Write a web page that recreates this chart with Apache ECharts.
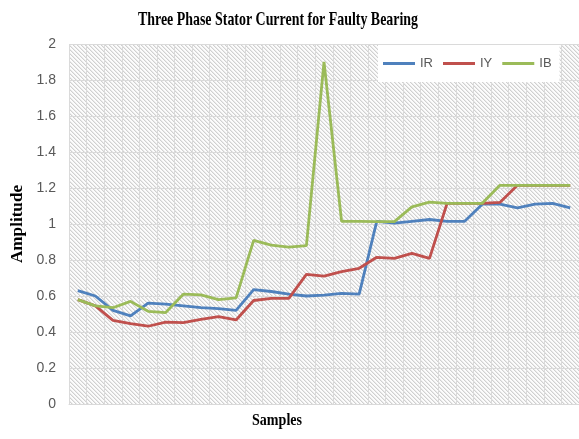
<!DOCTYPE html>
<html>
<head>
<meta charset="utf-8">
<script src="https://cdn.jsdelivr.net/npm/echarts@6/dist/echarts.min.js"></script>
<style>
  html, body { margin: 0; padding: 0; background: #ffffff; }
  #chart { width: 579px; height: 439px; }
</style>
</head>
<body>
<div id="chart"></div>
<script>
// Sample indices along the horizontal axis (labels are not shown)
const samples = ['1','2','3','4','5','6','7','8','9','10','11','12','13','14','15',
                 '16','17','18','19','20','21','22','23','24','25','26','27','28','29'];

// Stator current amplitude for each phase
const irValues = [0.63, 0.60, 0.52, 0.49, 0.56, 0.555, 0.545, 0.535, 0.53, 0.52,
                  0.635, 0.625, 0.61, 0.60, 0.605, 0.615, 0.61, 1.015, 1.005, 1.015,
                  1.025, 1.015, 1.015, 1.11, 1.11, 1.09, 1.11, 1.115, 1.09];
const iyValues = [0.58, 0.545, 0.465, 0.447, 0.432, 0.455, 0.452, 0.47, 0.485, 0.467,
                  0.575, 0.587, 0.587, 0.72, 0.711, 0.735, 0.754, 0.815, 0.809, 0.837,
                  0.809, 1.115, 1.115, 1.115, 1.12, 1.215, 1.215, 1.215, 1.215];
const ibValues = [0.58, 0.545, 0.535, 0.57, 0.515, 0.508, 0.61, 0.606, 0.58, 0.59,
                  0.909, 0.883, 0.872, 0.88, 1.9, 1.015, 1.015, 1.013, 1.013, 1.095,
                  1.122, 1.115, 1.115, 1.115, 1.215, 1.215, 1.215, 1.215, 1.215];

const seriesNames = ['IR', 'IY', 'IB'];
const yTickMin = 0, yTickMax = 2, yTickStep = 0.2;

const colors = ['#4F81BD', '#C0504D', '#9BBB59'];
const labelFont = '"Liberation Sans", Arial, sans-serif';
const serifFont = '"Liberation Serif", "Times New Roman", serif';

// Diagonal hatch tile for the plot background
function hatchTile() {
  const n = 4;
  const c = document.createElement('canvas');
  c.width = n; c.height = n;
  const g = c.getContext('2d');
  const img = g.createImageData(n, n);
  for (let y = 0; y < n; y++) {
    for (let x = 0; x < n; x++) {
      const d = ((x - y) % n + n) % n;
      const v = d === 0 ? 208 : (d === 1 ? 234 : 252);
      const i = (y * n + x) * 4;
      img.data[i] = v; img.data[i + 1] = v; img.data[i + 2] = v; img.data[i + 3] = 255;
    }
  }
  g.putImageData(img, 0, 0);
  return c;
}

// Horizontal squeeze factor so a text run spans the wanted width
function fitScale(text, font, width) {
  const g = document.createElement('canvas').getContext('2d');
  g.font = font;
  return width / g.measureText(text).width;
}

const titleText = 'Three Phase Stator Current for Faulty Bearing';
const titleFont = 'bold 19px ' + serifFont;
const xNameFont = 'bold 16px ' + serifFont;
const yNameFont = 'bold 16px ' + serifFont;

const chart = echarts.init(document.getElementById('chart'), null, { renderer: 'canvas' });

chart.setOption({
  animation: false,
  backgroundColor: '#ffffff',
  grid: {
    show: true,
    left: 69, top: 44, width: 522, height: 360,
    borderWidth: 0,
    backgroundColor: { image: hatchTile(), repeat: 'repeat' }
  },
  legend: {
    data: seriesNames,
    orient: 'horizontal',
    left: 378, top: 45, width: 195,
    padding: [12, 8, 12, 5],
    backgroundColor: '#ffffff',
    icon: 'rect',
    itemWidth: 32, itemHeight: 3, itemGap: 10,
    textStyle: { color: '#595959', fontSize: 13, fontFamily: labelFont }
  },
  xAxis: {
    type: 'category',
    data: samples,
    boundaryGap: true,
    axisLine: { show: true, lineStyle: { color: '#d9d9d9', width: 1 } },
    axisTick: { show: false },
    axisLabel: { show: false },
    splitLine: { show: true, lineStyle: { color: '#dadada', width: 1 } }
  },
  yAxis: {
    type: 'value',
    min: yTickMin, max: yTickMax, interval: yTickStep,
    axisLine: { show: false },
    axisTick: { show: false },
    axisLabel: { color: '#595959', fontSize: 14, fontFamily: labelFont, margin: 13 },
    splitLine: { show: true, lineStyle: { color: '#dadada', width: 1 } }
  },
  series: [irValues, iyValues, ibValues].map((vals, i) => ({
    name: seriesNames[i],
    type: 'line',
    data: vals,
    symbol: 'none',
    color: colors[i],
    lineStyle: { width: 2.8, color: colors[i] },
    z: 2 + i
  })),
  graphic: [
    {
      type: 'text', x: 278, y: 20, scaleX: fitScale(titleText, titleFont, 280),
      style: { text: titleText, font: titleFont, fill: '#000000', align: 'center', verticalAlign: 'middle' }
    },
    {
      type: 'text', x: 277, y: 421, scaleX: fitScale('Samples', xNameFont, 50),
      style: { text: 'Samples', font: xNameFont, fill: '#000000', align: 'center', verticalAlign: 'middle' }
    },
    {
      type: 'text', x: 18, y: 224, rotation: Math.PI / 2, scaleX: fitScale('Amplitude', yNameFont, 78),
      style: { text: 'Amplitude', font: yNameFont, fill: '#000000', align: 'center', verticalAlign: 'middle' }
    }
  ]
});
</script>
</body>
</html>
